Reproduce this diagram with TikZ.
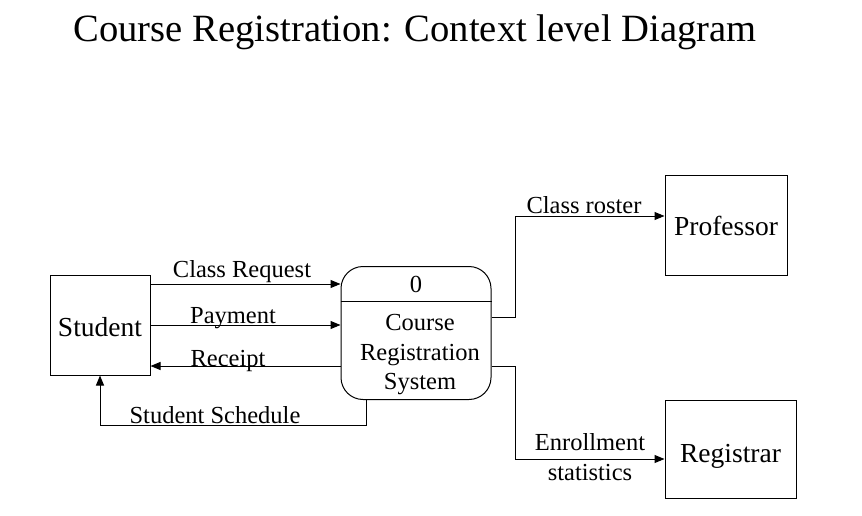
\documentclass[tikz,border=0pt]{standalone}
\usepackage{fontspec}
\setmainfont{Liberation Serif}
\usetikzlibrary{arrows.meta}
\begin{document}
\begin{tikzpicture}[x=1pt,y=-1pt,
  entity/.style={draw, line width=1pt, inner sep=0pt},
  proc/.style={draw, line width=1pt, rounded corners=22pt, inner sep=0pt},
  flow/.style={line width=1pt, -{Triangle[length=10pt,width=8pt]}},
  line/.style={line width=1pt},
  lbl/.style={anchor=base, inner sep=0pt, font=\fontsize{24.5}{29}\selectfont},
  ename/.style={anchor=base, inner sep=0pt, font=\fontsize{27.5}{32}\selectfont}]
\useasboundingbox (0,0) rectangle (862,516);
\node[anchor=base, inner sep=0pt, font=\fontsize{38.6}{44}\selectfont] (title) at (415,42) {Course Registration: Context level Diagram};
% entities
\node[entity, minimum width=100pt, minimum height=100pt] (student) at (100,325) {};
\node[ename] (studentt) at (100,336) {Student};
\node[entity, minimum width=122pt, minimum height=100pt] (prof) at (726,225) {};
\node[ename] (proft) at (726,235) {Professor};
\node[entity, minimum width=131pt, minimum height=98pt] (reg) at (730.5,449) {};
\node[ename] (regt) at (730.5,462) {Registrar};
% process
\node[proc, minimum width=150pt, minimum height=133pt] (proc) at (416,333) {};
\draw[line] (proc.west |- 0,301) -- (proc.east |- 0,301);
\node[lbl] (pid) at (416,292) {0};
\node[lbl] (p1) at (420,330) {Course};
\node[lbl] (p2) at (420,360) {Registration};
\node[lbl] (p3) at (420,389) {System};
% flows
\draw[flow] (student.east |- 0,284) -- (proc.west |- 0,284);
\node[lbl] (l1) at (242,277) {Class Request};
\draw[flow] (student.east |- 0,325) -- (proc.west |- 0,325);
\node[lbl] (l2) at (233,323) {Payment};
\draw[flow] (proc.west |- 0,366) -- (student.east |- 0,366);
\node[lbl] (l3) at (228,366) {Receipt};
\draw[flow] (366,0 |- proc.south) -- (366,425) -- (100,425) -- (student.south);
\node[lbl] (l4) at (215,423) {Student Schedule};
\draw[flow] (proc.east |- 0,317) -- (515,317) -- (515,216) -- (prof.west |- 0,216);
\node[lbl] (l5) at (584,213) {Class roster};
\draw[flow] (proc.east |- 0,366) -- (515,366) -- (515,459) -- (reg.west |- 0,459);
\node[lbl] (l6) at (590,450) {Enrollment};
\node[lbl] (l7) at (590,480) {statistics};
\end{tikzpicture}
\end{document}
